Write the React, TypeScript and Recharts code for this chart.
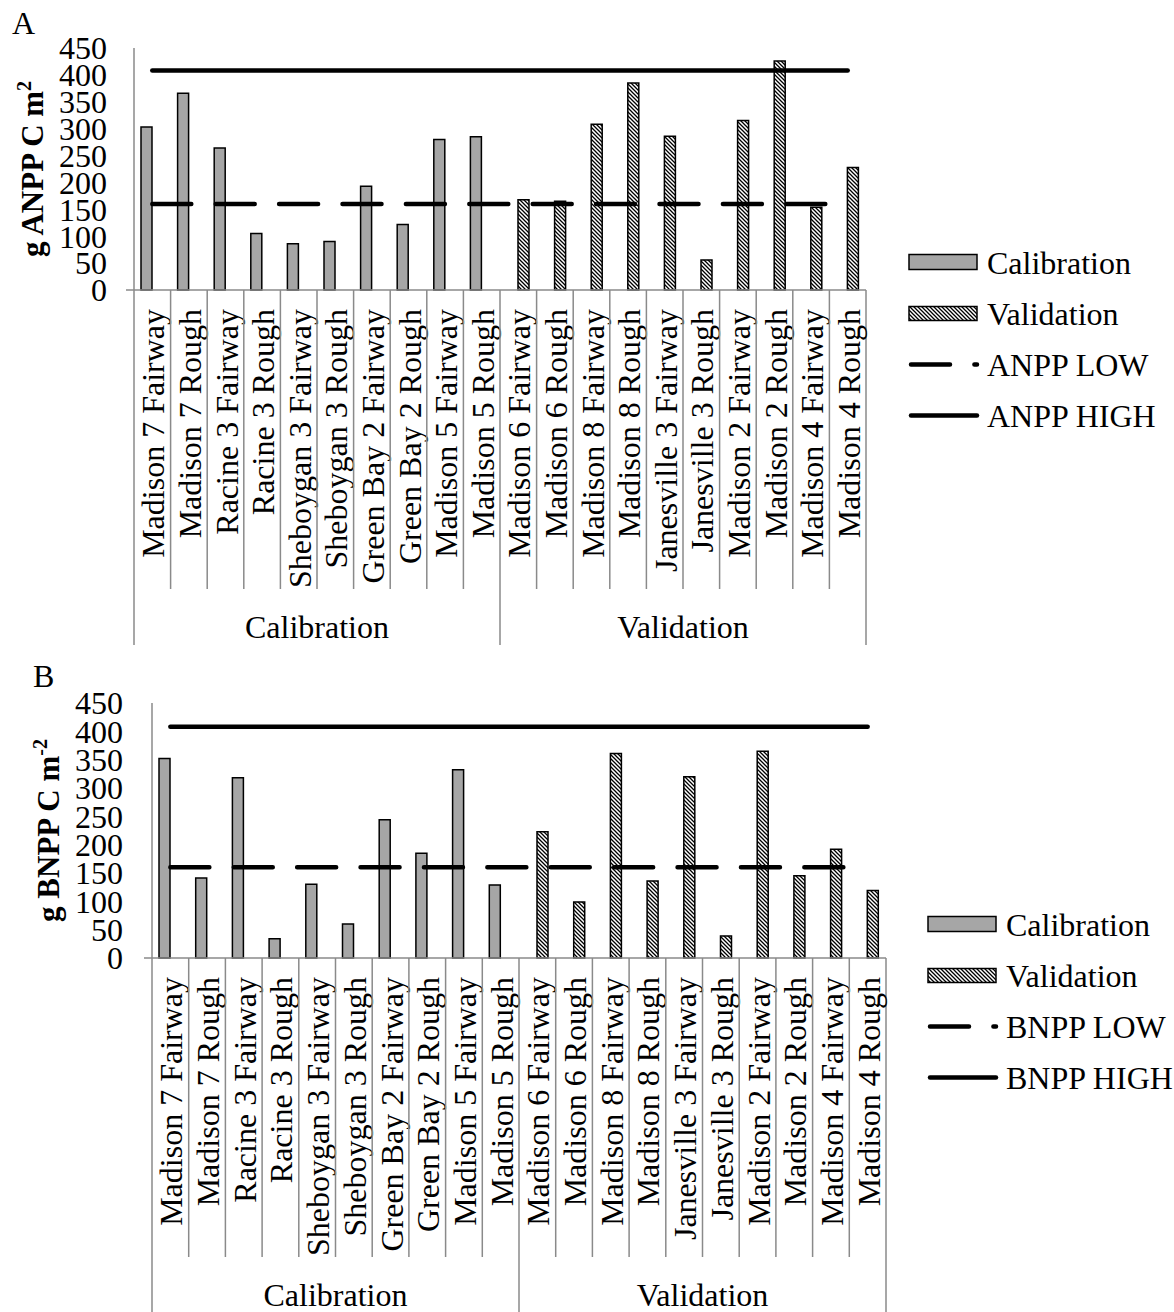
import { Bar, ComposedChart, Line, XAxis, YAxis } from 'recharts';

const SITES = [
  'Madison 7 Fairway', 'Madison 7 Rough', 'Racine 3 Fairway', 'Racine 3 Rough',
  'Sheboygan 3 Fairway', 'Sheboygan 3 Rough', 'Green Bay 2 Fairway', 'Green Bay 2 Rough',
  'Madison 5 Fairway', 'Madison 5 Rough', 'Madison 6 Fairway', 'Madison 6 Rough',
  'Madison 8 Fairway', 'Madison 8 Rough', 'Janesville 3 Fairway', 'Janesville 3 Rough',
  'Madison 2 Fairway', 'Madison 2 Rough', 'Madison 4 Fairway', 'Madison 4 Rough',
];
const GROUPS = ['Calibration', 'Validation'];
const GROUP_SIZE = 10;

const ANPP_CAL = [303, 366, 264, 105, 86, 90, 193, 122, 280, 285];
const ANPP_VAL = [168, 165, 308, 385, 286, 56, 315, 426, 154, 228];
const BNPP_CAL = [352, 141, 318, 34, 130, 60, 244, 185, 332, 129];
const BNPP_VAL = [223, 99, 361, 136, 320, 39, 365, 145, 192, 119];

const ANPP_LOW = 160;
const ANPP_HIGH = 408;
const BNPP_LOW = 160;
const BNPP_HIGH = 408;

const Y_TICKS = [0, 50, 100, 150, 200, 250, 300, 350, 400, 450];

const FONT = "'Liberation Serif', 'Times New Roman', serif";
const FS = 32;
const AXIS = '#8a8a8a';
const CAL_FILL = '#a6a6a6';
const W = 1174;

function buildRows(cal: number[], val: number[], low: number, high: number) {
  return SITES.map((site, i) => ({
    site,
    calibration: i < GROUP_SIZE ? cal[i] : null,
    validation: i >= GROUP_SIZE ? val[i - GROUP_SIZE] : null,
    low,
    high,
  }));
}

// category label, cell dividers and the group caption under each block of ten sites
function SiteTick(props: any) {
  const { x, y, payload, index, band } = props;
  const left = x - band / 2;
  const right = x + band / 2;
  const groupEdge = index % GROUP_SIZE === 0;
  return (
    <g>
      {index === 0 && <line x1={left - 8} x2={left} y1={y} y2={y} stroke={AXIS} strokeWidth={1.5} />}
      <line x1={left} x2={left} y1={y} y2={y + (groupEdge ? 355 : 299)} stroke={AXIS} strokeWidth={1.5} />
      {index === SITES.length - 1 && (
        <line x1={right} x2={right} y1={y} y2={y + 355} stroke={AXIS} strokeWidth={1.5} />
      )}
      <text
        transform={`translate(${x + 12},${y + 19}) rotate(-90)`}
        textAnchor="end"
        fontFamily={FONT}
        fontSize={FS}
        fill="#000"
      >
        {payload.value}
      </text>
      {index % GROUP_SIZE === GROUP_SIZE / 2 - 1 && (
        <text x={right} y={y + 348} textAnchor="middle" fontFamily={FONT} fontSize={FS} fill="#000">
          {GROUPS[Math.floor(index / GROUP_SIZE)]}
        </text>
      )}
    </g>
  );
}

function Hatch({ id }: { id: string }) {
  return (
    <pattern id={id} patternUnits="userSpaceOnUse" width={4} height={4}>
      <rect width={4} height={4} fill="#fff" />
      <path d="M-1,-1 L5,5 M-1,3 L1,5 M3,-1 L5,1" stroke="#000" strokeWidth={1.3} />
    </pattern>
  );
}

type PanelProps = {
  id: string;
  top: number;
  height: number;
  marginTop: number;
  marginRight: number;
  axisWidth: number;
  axisHeight: number;
  tickGap: number;
  titleX: number;
  title: string;
  sup: string;
  cal: number[];
  val: number[];
  low: number;
  high: number;
};

function Panel(p: PanelProps) {
  const rows = buildRows(p.cal, p.val, p.low, p.high);
  const band = (W - p.marginRight - p.axisWidth) / SITES.length;
  return (
    <div style={{ position: 'absolute', left: 0, top: p.top }}>
      <ComposedChart
        width={W}
        height={p.height}
        data={rows}
        margin={{ top: p.marginTop, right: p.marginRight, bottom: 0, left: 0 }}
        barGap={0}
      >
        <defs>
          <Hatch id={`hatch-${p.id}`} />
        </defs>
        <XAxis
          dataKey="site"
          interval={0}
          height={p.axisHeight}
          tickLine={false}
          tickSize={0}
          tickMargin={0}
          axisLine={{ stroke: AXIS, strokeWidth: 1.5 }}
          tick={(t: any) => <SiteTick {...t} band={band} />}
        />
        <YAxis
          width={p.axisWidth}
          domain={[0, 450]}
          ticks={Y_TICKS}
          interval={0}
          tickLine={false}
          tickSize={0}
          tickMargin={p.tickGap}
          axisLine={{ stroke: AXIS, strokeWidth: 1.5 }}
          tick={{ fontFamily: FONT, fontSize: FS, fill: '#000' }}
          label={{
            content: (l: any) => {
              const vb = l.viewBox;
              const cy = vb.y + vb.height / 2;
              return (
                <text
                  transform={`translate(${p.titleX},${cy}) rotate(-90)`}
                  textAnchor="middle"
                  fontFamily={FONT}
                  fontSize={31}
                  fontWeight="bold"
                  fill="#000"
                >
                  {p.title}
                  <tspan dy={-12} fontSize={20}>{p.sup}</tspan>
                </text>
              );
            },
          }}
        />
        <Bar dataKey="calibration" barSize={11} fill={CAL_FILL} stroke="#000" strokeWidth={1.5} isAnimationActive={false} />
        <Bar dataKey="validation" barSize={11} fill={`url(#hatch-${p.id})`} stroke="#000" strokeWidth={1.5} isAnimationActive={false} />
        <Line
          dataKey="low"
          stroke="#000"
          strokeWidth={4.5}
          strokeDasharray="39 24.4"
          strokeLinecap="round"
          dot={false}
          activeDot={false}
          isAnimationActive={false}
        />
        <Line
          dataKey="high"
          stroke="#000"
          strokeWidth={4.5}
          strokeLinecap="round"
          dot={false}
          activeDot={false}
          isAnimationActive={false}
        />
      </ComposedChart>
    </div>
  );
}

function Key({ id, left, top, prefix }: { id: string; left: number; top: number; prefix: string }) {
  const items = ['Calibration', 'Validation', `${prefix} LOW`, `${prefix} HIGH`];
  const rowH = 51;
  return (
    <svg style={{ position: 'absolute', left, top }} width={W - left} height={rowH * 4}>
      <defs>
        <Hatch id={`key-hatch-${id}`} />
      </defs>
      {items.map((name, i) => {
        const cy = rowH / 2 + i * rowH;
        return (
          <g key={name}>
            {i === 0 && <rect x={1} y={cy - 8} width={68} height={15} fill={CAL_FILL} stroke="#000" strokeWidth={1.5} />}
            {i === 1 && <rect x={1} y={cy - 7} width={68} height={14} fill={`url(#key-hatch-${id})`} stroke="#000" strokeWidth={1.5} />}
            {i === 2 && (
              <line x1={3} x2={69} y1={cy} y2={cy} stroke="#000" strokeWidth={4.5} strokeDasharray="39 24.4" strokeLinecap="round" />
            )}
            {i === 3 && <line x1={3} x2={69} y1={cy} y2={cy} stroke="#000" strokeWidth={4.5} strokeLinecap="round" />}
            <text x={79} y={cy + 11} fontFamily={FONT} fontSize={FS} fill="#000">
              {name}
            </text>
          </g>
        );
      })}
    </svg>
  );
}

export default function App() {
  return (
    <div style={{ position: 'absolute', left: 0, top: 0, width: W, height: 1312, background: '#fff', fontFamily: FONT }}>
      <div style={{ position: 'absolute', left: 12, top: 6, fontSize: FS, lineHeight: '34px' }}>A</div>
      <Panel
        id="a"
        top={0}
        height={660}
        marginTop={48}
        marginRight={308}
        axisWidth={134}
        axisHeight={370}
        tickGap={27}
        titleX={43}
        title="g ANPP C m"
        sup="2"
        cal={ANPP_CAL}
        val={ANPP_VAL}
        low={ANPP_LOW}
        high={ANPP_HIGH}
      />
      <Key id="a" left={908} top={237} prefix="ANPP" />
      <div style={{ position: 'absolute', left: 33, top: 659, fontSize: FS, lineHeight: '34px' }}>B</div>
      <Panel
        id="b"
        top={660}
        height={652}
        marginTop={43}
        marginRight={288}
        axisWidth={152}
        axisHeight={354}
        tickGap={29}
        titleX={59}
        title="g BNPP C m"
        sup="-2"
        cal={BNPP_CAL}
        val={BNPP_VAL}
        low={BNPP_LOW}
        high={BNPP_HIGH}
      />
      <Key id="b" left={927} top={899} prefix="BNPP" />
    </div>
  );
}
